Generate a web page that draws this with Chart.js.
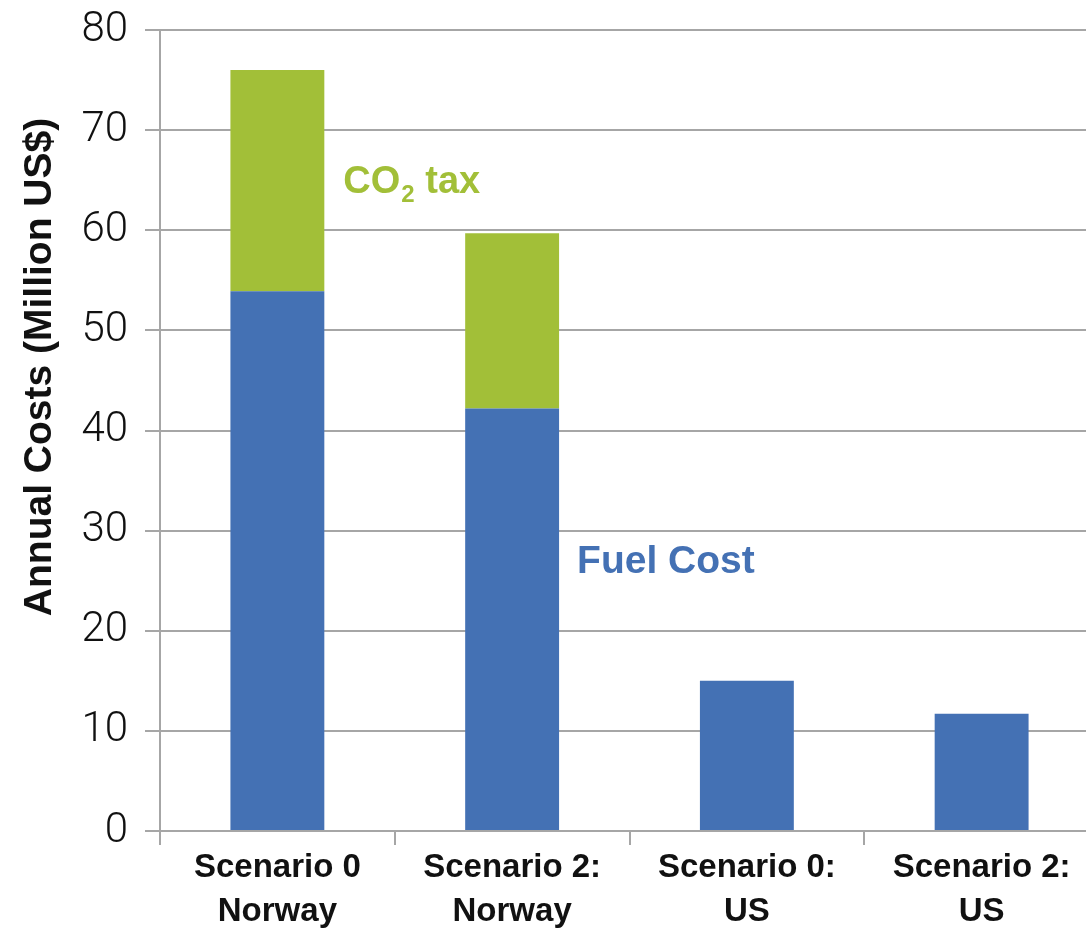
<!DOCTYPE html>
<html>
<head>
<meta charset="utf-8">
<script src="https://cdn.jsdelivr.net/npm/chart.js@4"></script>
<style>
  body { margin: 0; background: #fff; }
  #wrap { width: 1086px; height: 930px; overflow: hidden; position: relative; }
  canvas { display: block; }
</style>
</head>
<body>
<div id="wrap"><canvas id="myChart" width="1110" height="930"></canvas></div>
<script>
// categories and series (Million US$)
var scenarios = [['Scenario 0', 'Norway'], ['Scenario 2:', 'Norway'], ['Scenario 0:', 'US'], ['Scenario 2:', 'US']];
var fuelCost = [53.9, 42.2, 15.0, 11.7];
var co2Tax = [22.1, 17.5, 0, 0];
var yTicks = [0, 10, 20, 30, 40, 50, 60, 70, 80];

var blue = '#4471b4';
var green = '#a2bf38';
var gridGray = '#a6a6a6';
var sans = "'Liberation Sans', Arial, sans-serif";

// y title and the two series labels drawn on the canvas
var labelsPlugin = {
  id: 'labels',
  afterDatasetsDraw: function(chart) {
    var c = chart.ctx;
    var y = chart.scales.y;
    c.save();
    // axis title
    c.translate(40, 367);
    c.rotate(-Math.PI / 2);
    c.fillStyle = '#111';
    c.font = 'bold 39px ' + sans;
    c.textAlign = 'center';
    c.textBaseline = 'middle';
    c.fillText('Annual Costs (Million US$)', 0, 0);
    c.restore();

    c.save();
    c.textAlign = 'left';
    c.textBaseline = 'alphabetic';
    // CO2 tax
    var b0 = chart.getDatasetMeta(1).data[0];
    var x = b0.x + b0.width / 2 + 19;
    var by = y.getPixelForValue(63.7);
    c.fillStyle = green;
    c.font = 'bold 38px ' + sans;
    c.fillText('CO', x, by);
    x += c.measureText('CO').width + 1;
    c.font = 'bold 24px ' + sans;
    c.fillText('2', x, by + 9);
    x += c.measureText('2').width;
    c.font = 'bold 38px ' + sans;
    c.fillText(' tax', x, by);
    // Fuel Cost
    var b1 = chart.getDatasetMeta(0).data[1];
    c.fillStyle = blue;
    c.font = 'bold 39px ' + sans;
    c.fillText('Fuel Cost', b1.x + b1.width / 2 + 18, y.getPixelForValue(25.8));
    c.restore();
  }
};

var ctx = document.getElementById('myChart').getContext('2d');
var myChart = new Chart(ctx, {
  type: 'bar',
  data: {
    labels: scenarios,
    datasets: [{
      label: 'Fuel Cost',
      data: fuelCost,
      backgroundColor: blue,
      barPercentage: 0.4,
      categoryPercentage: 1.0
    }, {
      label: 'CO2 tax',
      data: co2Tax,
      backgroundColor: green,
      barPercentage: 0.4,
      categoryPercentage: 1.0
    }]
  },
  options: {
    responsive: false,
    devicePixelRatio: 1,
    animation: false,
    layout: { padding: { top: 30, right: 11, bottom: 0, left: 0 } },
    plugins: {
      legend: { display: false },
      tooltip: { enabled: false }
    },
    scales: {
      x: {
        stacked: true,
        afterFit: function(scale) {
          scale.height = 99;
          scale.paddingLeft = 0;
          scale.paddingRight = 0;
        },
        grid: {
          offset: true,
          drawOnChartArea: false,
          drawTicks: true,
          tickLength: 14,
          color: gridGray,
          lineWidth: 2
        },
        border: { display: true, color: gridGray, width: 2 },
        ticks: {
          color: '#111',
          padding: 0,
          maxRotation: 0,
          autoSkip: false,
          font: { family: sans, size: 33, weight: 'bold', lineHeight: 1.36 }
        }
      },
      y: {
        stacked: true,
        min: 0,
        max: 80,
        afterFit: function(scale) {
          scale.width = 160;
          scale.paddingTop = 0;
          scale.paddingBottom = 0;
        },
        afterBuildTicks: function(scale) {
          scale.ticks = yTicks.map(function(v) { return { value: v }; });
        },
        grid: {
          color: gridGray,
          lineWidth: 2,
          tickLength: 15
        },
        border: { display: true, color: gridGray, width: 2 },
        ticks: {
          color: '#111',
          padding: 17,
          font: { family: "Roboto, 'Liberation Sans', sans-serif", size: 42, weight: 300 }
        }
      }
    }
  },
  plugins: [labelsPlugin]
});
</script>
</body>
</html>
